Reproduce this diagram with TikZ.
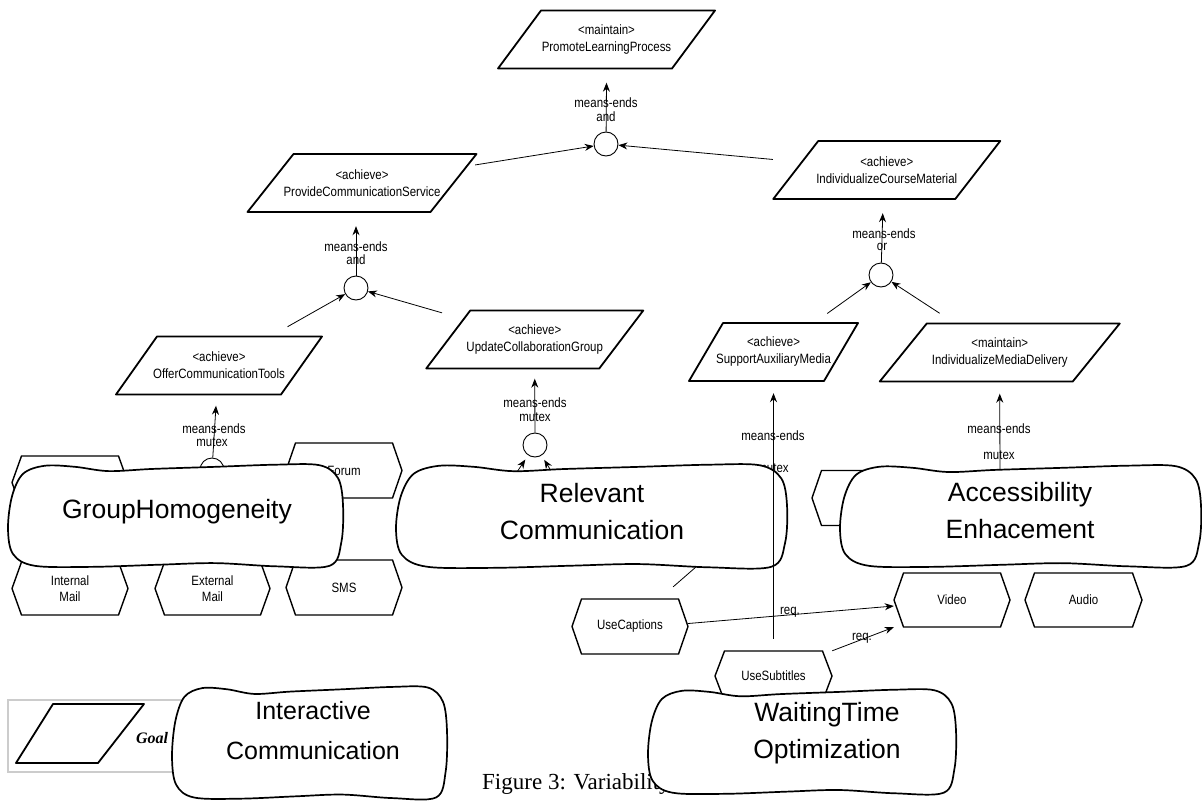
\documentclass[tikz,border=0pt]{standalone}
\usepackage{fontspec}
\setmainfont{Liberation Sans}
\newfontfamily\dfont[FakeStretch=0.85]{Liberation Sans}
\newfontfamily\capfont{Liberation Serif}
\usetikzlibrary{arrows.meta}

\tikzset{
 goalline/.style={line width=1.8pt, line join=round},
 hexline/.style={line width=1.4pt, line join=miter},
 sgline/.style={line width=1.7pt, fill=white},
 gtext/.style={inner sep=0pt, align=center, font=\dfont\fontsize{13.5}{17}\selectfont},
 ftext/.style={inner sep=0pt, align=center, font=\dfont\fontsize{13.5}{16}\selectfont},
 lbl/.style={inner sep=0pt, font=\dfont\fontsize{13.5}{16}\selectfont},
 sgtext/.style={inner sep=0pt, align=center, font=\fontsize{26.5}{37}\selectfont},
 meop/.style={circle, draw, line width=0.9pt, minimum size=24pt, inner sep=0pt, fill=white},
 arr/.style={line width=0.8pt, -{Stealth[length=9pt,width=7pt]}},
 conn/.style={line width=0.8pt},
}

% goal: name, cx, cy, top width, slant, stereotype, text
\newcommand\goalbox[7]{%
 \draw[goalline] (#2-#4/2+#5/2,#3-29) -- (#2+#4/2+#5/2,#3-29) -- (#2+#4/2-#5/2,#3+29) -- (#2-#4/2-#5/2,#3+29) -- cycle;
 \node[gtext, minimum width=#4pt, minimum height=58pt] (#1) at (#2,#3) {<#6>\\#7};}

% feature: name, cx, cy, w, h, text
\newcommand\featbox[6]{%
 \draw[hexline] (#2-#4/2,#3) -- (#2-#4/2+9.5,#3-#5/2) -- (#2+#4/2-9.5,#3-#5/2) -- (#2+#4/2,#3) -- (#2+#4/2-9.5,#3+#5/2) -- (#2-#4/2+9.5,#3+#5/2) -- cycle;
 \node[ftext, minimum width=#4pt, minimum height=#5pt] (#1) at (#2,#3) {#6};}

% softgoal cloud shape in box x1,y1,x2,y2
\newcommand\cloudshape[4]{%
 \pgfmathsetmacro\sgx{#1}\pgfmathsetmacro\sgy{#2}%
 \pgfmathsetmacro\sgw{#3-#1}\pgfmathsetmacro\sgh{#4-#2}%
 \draw[sgline] plot[smooth cycle, tension=0.55] coordinates {
  ({\sgx+0.000*\sgw},{\sgy+0.62*\sgh})
  ({\sgx+0.012*\sgw},{\sgy+0.32*\sgh})
  ({\sgx+0.045*\sgw},{\sgy+0.11*\sgh})
  ({\sgx+0.110*\sgw},{\sgy+0.035*\sgh})
  ({\sgx+0.200*\sgw},{\sgy+0.045*\sgh})
  ({\sgx+0.300*\sgw},{\sgy+0.085*\sgh})
  ({\sgx+0.430*\sgw},{\sgy+0.065*\sgh})
  ({\sgx+0.620*\sgw},{\sgy+0.045*\sgh})
  ({\sgx+0.800*\sgw},{\sgy+0.025*\sgh})
  ({\sgx+0.930*\sgw},{\sgy+0.03*\sgh})
  ({\sgx+0.985*\sgw},{\sgy+0.15*\sgh})
  ({\sgx+1.000*\sgw},{\sgy+0.40*\sgh})
  ({\sgx+0.995*\sgw},{\sgy+0.75*\sgh})
  ({\sgx+0.960*\sgw},{\sgy+0.97*\sgh})
  ({\sgx+0.800*\sgw},{\sgy+0.975*\sgh})
  ({\sgx+0.620*\sgw},{\sgy+0.945*\sgh})
  ({\sgx+0.450*\sgw},{\sgy+0.96*\sgh})
  ({\sgx+0.250*\sgw},{\sgy+0.98*\sgh})
  ({\sgx+0.080*\sgw},{\sgy+0.97*\sgh})
  ({\sgx+0.015*\sgw},{\sgy+0.86*\sgh})
 };}

\begin{document}
\begin{tikzpicture}[x=1pt,y=-1pt]
\useasboundingbox (0,0) rectangle (1202,803);

% legend
\draw[gray!40, line width=2.2pt] (8,700) rectangle (195,772);
\draw[goalline] (53,704) -- (144,704) -- (98,763) -- (16,763) -- cycle;
\node[inner sep=0pt] (legG) at (78,733.5) {};
\node[inner sep=0pt, font=\capfont\bfseries\itshape\fontsize{16}{18}\selectfont] (legT) at (152,738) {Goal};

% caption
\node[inner sep=0pt, anchor=west, font=\capfont\fontsize{23}{28}\selectfont] (cap) at (482,784) {Figure 3: Variability};

% goals
\goalbox{plp}{606.5}{39.5}{174}{43}{maintain}{PromoteLearningProcess}
\goalbox{pcs}{362}{183}{183}{46}{achieve}{ProvideCommunicationService}
\goalbox{icm}{886.75}{170}{182}{45}{achieve}{IndividualizeCourseMaterial}
\goalbox{oct}{219}{365.5}{165}{41}{achieve}{OfferCommunicationTools}
\goalbox{ucg}{534.75}{339.5}{173}{44}{achieve}{UpdateCollaborationGroup}
\goalbox{sam}{773.5}{352}{135}{34}{achieve}{SupportAuxiliaryMedia}
\goalbox{imd}{999.75}{352.5}{193}{47}{maintain}{IndividualizeMediaDelivery}

% means-ends operators
\node[meop] (c0) at (606,144) {};
\node[meop] (cpcs) at (356,288) {};
\node[meop] (cicm) at (881,275) {};
\node[meop] (cgh) at (212,470) {};
\node[meop] (crc) at (535,445) {};

% free ends under clouds
\coordinate (rcf1) at (505,490);
\coordinate (rcf2) at (563,490);
\coordinate (aeT) at (1000,485);
\coordinate (ucT) at (712,553);

% connectors
\draw[arr] (c0) -- ([yshift=-14pt]plp.south);
\draw[arr, shorten <=21.8pt] (pcs) -- (c0);
\draw[arr, shorten <=22.8pt] (icm) -- (c0);
\draw[arr] (cpcs) -- ([shift={(-6pt,-14pt)}]pcs.south);
\draw[arr, shorten <=19.5pt] (oct) -- (cpcs);
\draw[arr, shorten <=6.3pt] (ucg) -- (cpcs);
\draw[arr] (cicm) -- ([shift={(-4pt,-14pt)}]icm.south);
\draw[arr, shorten <=16pt] (sam) -- (cicm);
\draw[arr, shorten <=18.3pt] (imd) -- (cicm);
\draw[arr] (cgh) -- ([shift={(-3pt,-11pt)}]oct.south);
\draw[arr] (crc) -- ([yshift=-10pt]ucg.south);
\draw[arr, shorten >=5pt] (rcf1) -- (crc);
\draw[arr, shorten >=5pt] (rcf2) -- (crc);
\draw[arr] (aeT) -- ([yshift=-12pt]imd.south);

% labels
\node[lbl] (l0a) at (606,103) {means-ends};
\node[lbl] (l0b) at (606,117) {and};
\node[lbl] (l1a) at (356,247) {means-ends};
\node[lbl] (l1b) at (356,260) {and};
\node[lbl] (l2a) at (884,234) {means-ends};
\node[lbl] (l2b) at (882,247) {or};
\node[lbl] (l3a) at (214,429) {means-ends};
\node[lbl] (l3b) at (212,442) {mutex};
\node[lbl] (l4a) at (535,403) {means-ends};
\node[lbl] (l4b) at (535,417) {mutex};
\node[lbl] (l5a) at (773,436) {means-ends};
\node[lbl] (l5b) at (773,468) {mutex};
\node[lbl] (l6a) at (999,429) {means-ends};
\node[lbl] (l6b) at (999,455) {mutex};

% features
\featbox{ftl}{70}{482.5}{116}{53}{}
\featbox{fim}{70}{588.5}{116}{53}{Internal\\Mail}
\featbox{fem}{212.5}{588.5}{115}{53}{External\\Mail}
\featbox{fsms}{344}{587.5}{116}{55}{SMS}
\featbox{ffor}{344}{470.5}{116}{55}{Forum}
\featbox{fae}{870}{498}{116}{55}{}
\featbox{vid}{952}{600}{116}{54}{Video}
\featbox{aud}{1083.5}{600}{117}{54}{Audio}
\featbox{uc}{630}{626.5}{116}{55}{UseCaptions}
\featbox{us}{773.5}{676}{117}{50}{UseSubtitles}

\draw[conn] ([shift={(-15pt,12pt)}]uc.north east) -- (ucT);
\draw[arr] ([yshift=3pt]uc.east) -- ([yshift=-6pt]vid.west);
\draw[arr] (us.north east) -- (vid.south west);
\node[lbl] (r1) at (790,612) {req.};
\node[lbl] (r2) at (862,638) {req.};

% softgoals
\cloudshape{8}{462}{343}{569}
\node[sgtext] (gh) at (177,512) {GroupHomogeneity};
\cloudshape{396}{462}{787}{570}
\node[sgtext] (rc) at (592,511.5) {Relevant\\Communication};
\cloudshape{840}{463}{1201}{569}
\node[sgtext] (ae) at (1020,511) {Accessibility\\Enhacement};
\cloudshape{648}{687}{956}{796}
\node[sgtext] (wt) at (827,733.5) {WaitingTime\\Optimization};
\cloudshape{172}{684}{447}{801}
\node[sgtext, font=\fontsize{25}{40}\selectfont] (ic) at (313,731) {Interactive\\Communication};

% means-ends line drawn over the cloud
\draw[arr] ([yshift=12pt]us.north) -- ([yshift=-12pt]sam.south);
\end{tikzpicture}
\end{document}
